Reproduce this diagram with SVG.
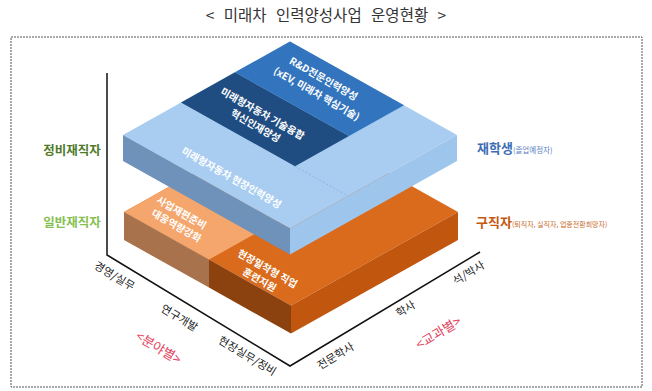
<svg xmlns="http://www.w3.org/2000/svg" width="652" height="391" viewBox="0 0 652 391">
<style>
.t{font-family:"Noto Sans CJK KR","Noto Sans",sans-serif;}
.w{fill:#ffffff;font-size:10px;font-weight:bold;text-anchor:middle;dominant-baseline:central;}
.ax{fill:#222;font-size:11px;text-anchor:middle;dominant-baseline:central;}
.red{fill:#e2425b;font-size:13px;text-anchor:middle;dominant-baseline:central;}
.axis{fill:none;stroke:#111;stroke-width:1.5;}
</style>
<rect x="0" y="0" width="652" height="391" fill="#ffffff"/>
<text class="t" x="326" y="20.5" font-size="15.5" word-spacing="6" text-anchor="middle" fill="#333">&lt; 미래차 인력양성사업 운영현황 &gt;</text>
<rect x="11" y="37" width="631" height="350" fill="none" stroke="#555" stroke-width="1" stroke-dasharray="2 1"/>

<g id="connectors">
<polyline class="axis" points="107,73 107,255 290,366 480,252"/>
</g>

<g id="orange-layer">
<polygon points="124,212 291,118.5 458,212 291,305.5" fill="#da6a1c"/>
<polygon points="291,305.5 458,212 458,240 291,333.5" fill="#c1560f"/>
<polygon points="209,259.6 291,305.5 291,333.5 209,287.6" fill="#8c420f"/>
<g id="peach">
<polygon points="124,212 291,118.5 376,166.1 209,259.6" fill="#f4a66d"/>
<polygon points="124,212 209,259.6 209,287.6 124,240" fill="#a8734c"/>
<text class="t w" transform="translate(182,212) rotate(29.5)">사업재편준비</text>
<text class="t w" transform="translate(177,225) rotate(29.5)">대응역량강화</text>
</g>
<g id="field-training">
<text class="t w" transform="translate(268,268) rotate(29.5)">현장밀착형 직업</text>
<text class="t w" transform="translate(260,279) rotate(29.5)">훈련지원</text>
</g>
</g>

<g id="blue-layer">
<polygon points="123,135 290,41.5 457,135 290,228.5" fill="#a8cdf1"/>
<polygon points="123,135 290,228.5 290,254.5 123,161" fill="#6f92ba"/>
<polygon points="290,228.5 457,135 457,161 290,254.5" fill="#9ec6ec"/>
<line x1="295" y1="166.3" x2="348" y2="196" stroke="#8cb5dc" stroke-width="1" stroke-dasharray="2 2"/>
<text class="t w" transform="translate(232,177) rotate(29.5)" font-size="10.5">미래형자동차 현장인력양성</text>
<g id="navy-band">
<polygon points="181,102.5 235,72.3 349,136.1 295,166.3" fill="#1f4d82"/>
<text class="t w" transform="translate(263,113) rotate(29.5)">미래형자동차 기술융합</text>
<text class="t w" transform="translate(256,125) rotate(29.5)">혁신인재양성</text>
</g>
<g id="rd-band">
<polygon points="235,72.3 290,41.5 404,105.3 349,136.1" fill="#3274bd"/>
<text class="t w" transform="translate(324,78) rotate(29.5)">R&amp;D전문인력양성</text>
<text class="t w" transform="translate(317,93) rotate(29.5)">(xEV, 미래차 핵심기술)</text>
</g>
</g>

<g id="left-labels">
<text class="t" x="72" y="155" font-size="12.5" font-weight="bold" text-anchor="middle" fill="#4f7a2a">정비재직자</text>
<text class="t" x="72" y="227" font-size="12.5" font-weight="bold" text-anchor="middle" fill="#86c050">일반재직자</text>
</g>

<g id="right-labels">
<text class="t" x="477" y="153" font-size="13" font-weight="bold" fill="#3d6db5">재학생<tspan font-size="7.5" font-weight="normal" fill="#5a80c0">(졸업예정자)</tspan></text>
<text class="t" x="476" y="227" font-size="13" font-weight="bold" fill="#c5590f">구직자<tspan font-size="7" font-weight="normal" fill="#c96a2a">(퇴직자, 실직자, 업종전환희망자)</tspan></text>
</g>

<g id="axis-labels">
<text class="t ax" transform="translate(115,275) rotate(31)">경영/실무</text>
<text class="t ax" transform="translate(180,317) rotate(31)">연구개발</text>
<text class="t ax" transform="translate(248,355) rotate(31)">현장실무/정비</text>
<text class="t red" transform="translate(159,347) rotate(31)">&lt;분야별&gt;</text>
<text class="t ax" transform="translate(335,355) rotate(-31)">전문학사</text>
<text class="t ax" transform="translate(405,308) rotate(-31)">학사</text>
<text class="t ax" transform="translate(468,272) rotate(-31)">석/박사</text>
<text class="t red" transform="translate(438,332) rotate(-31)">&lt;교과별&gt;</text>
</g>
</svg>
